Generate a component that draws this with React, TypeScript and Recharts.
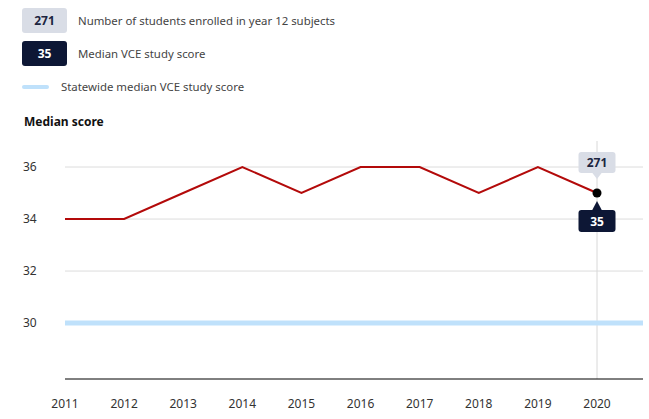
import React from "react";
import { LineChart, Line, XAxis, YAxis, CartesianGrid, ReferenceLine } from "recharts";

const years = [2011, 2012, 2013, 2014, 2015, 2016, 2017, 2018, 2019, 2020];
const medianScore = [34, 34, 35, 36, 35, 36, 36, 35, 36, 35];
const statewideMedian = 30;
const latestEnrolled = 271;
const yTicks = [30, 32, 34, 36];

const FONT = "'Noto Sans', sans-serif";

const data = years.map((year, i) => ({ year, score: medianScore[i] }));

function LastPointDot(props: any) {
  const { cx, cy, index } = props;
  if (index !== data.length - 1) return <g key={`d${index}`} />;
  const w = 37;
  return (
    <g key={`d${index}`}>
      <rect x={cx - w / 2} y={cy - 41} width={w} height={21} rx={3} fill="#d9dde6" />
      <path d={`M${cx - 5} ${cy - 20.5} L${cx} ${cy - 14} L${cx + 5} ${cy - 20.5} Z`} fill="#d9dde6" />
      <text x={cx} y={cy - 26} textAnchor="middle" fontFamily={FONT} fontSize={12} fontWeight={700} fill="#1b2440">
        {latestEnrolled}
      </text>
      <rect x={cx - w / 2} y={cy + 17} width={w} height={22} rx={3} fill="#0d1735" />
      <path d={`M${cx - 5} ${cy + 17.5} L${cx} ${cy + 8} L${cx + 5} ${cy + 17.5} Z`} fill="#0d1735" />
      <text x={cx} y={cy + 32.5} textAnchor="middle" fontFamily={FONT} fontSize={12} fontWeight={700} fill="#ffffff">
        {data[index].score}
      </text>
      <circle cx={cx} cy={cy} r={4.5} fill="#000" />
    </g>
  );
}

function YTick(props: any) {
  const { y, payload } = props;
  return (
    <text x={23} y={y + 4} textAnchor="start" fontFamily={FONT} fontSize={12} fill="#333">
      {payload.value}
    </text>
  );
}

function LegendBox({ bg, color, value }: { bg: string; color: string; value: string }) {
  return (
    <div
      style={{
        width: 45, height: 25, borderRadius: 3, background: bg, color,
        fontWeight: 700, fontSize: 12, display: "flex", alignItems: "center", justifyContent: "center",
      }}
    >
      {value}
    </div>
  );
}

const legendText = { fontSize: 11.4, color: "#444" };

export default function App() {
  return (
    <div style={{ position: "absolute", left: 0, top: 0, width: 649, height: 419, fontFamily: FONT, background: "#fff" }}>
      <div style={{ position: "absolute", left: 22, top: 8, display: "flex", alignItems: "center", gap: 11 }}>
        <LegendBox bg="#d9dde6" color="#1b2440" value={String(latestEnrolled)} />
        <span style={legendText}>Number of students enrolled in year 12 subjects</span>
      </div>
      <div style={{ position: "absolute", left: 22, top: 41, display: "flex", alignItems: "center", gap: 11 }}>
        <LegendBox bg="#0d1735" color="#fff" value={String(medianScore[medianScore.length - 1])} />
        <span style={legendText}>Median VCE study score</span>
      </div>
      <div style={{ position: "absolute", left: 22, top: 79, display: "flex", alignItems: "center", gap: 12 }}>
        <div style={{ width: 27, height: 4, borderRadius: 2, background: "#bfe1fb" }} />
        <span style={legendText}>Statewide median VCE study score</span>
      </div>
      <div style={{ position: "absolute", left: 24, top: 113, fontSize: 12, fontWeight: 700, color: "#111" }}>
        Median score
      </div>
      <div style={{ position: "absolute", left: 0, top: 0 }}>
        <LineChart width={649} height={419} data={data} margin={{ top: 141, right: 6, bottom: 0, left: 0 }}>
          <CartesianGrid horizontal vertical={false} stroke="#dcdcdc" horizontalValues={yTicks} />
          <XAxis
            dataKey="year"
            type="number"
            domain={[2011, 2020]}
            ticks={years}
            padding={{ left: 0, right: 46 }}
            tickLine={false}
            axisLine={{ stroke: "#000", strokeWidth: 1 }}
            tick={{ fill: "#333", fontSize: 12, fontFamily: FONT }}
            tickMargin={14}
            height={40}
            interval={0}
          />
          <YAxis
            domain={[27.85, 37]}
            ticks={yTicks}
            width={65}
            axisLine={false}
            tickLine={false}
            tick={<YTick />}
            allowDataOverflow
          />
          <ReferenceLine x={2020} stroke="#d8d8d8" strokeWidth={1} />
          <ReferenceLine y={statewideMedian} stroke="#bfe1fb" strokeWidth={5} />
          <Line
            type="linear"
            dataKey="score"
            stroke="#b30a0a"
            strokeWidth={2}
            dot={LastPointDot}
            activeDot={false}
            isAnimationActive={false}
          />
        </LineChart>
      </div>
    </div>
  );
}
